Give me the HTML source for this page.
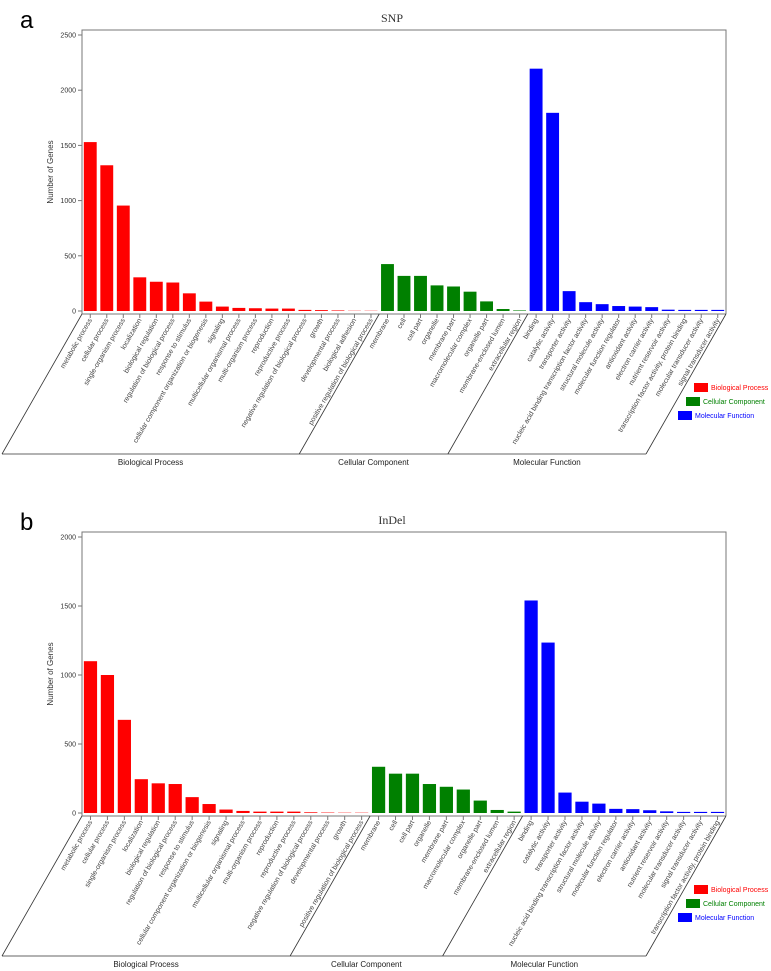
<!DOCTYPE html>
<html><head><meta charset="utf-8">
<style>
body{margin:0;background:#fff;}
svg{display:block;font-family:"Liberation Sans",Arial,sans-serif;}
</style></head>
<body>
<svg id="chart" width="771" height="971" viewBox="0 0 771 971" xmlns="http://www.w3.org/2000/svg"></svg>
<script>
const snpBP = ["metabolic process","cellular process","single-organism process","localization","biological regulation","regulation of biological process","response to stimulus","cellular component organization or biogenesis","signaling","multicellular organismal process","multi-organism process","reproduction","reproductive process","negative regulation of biological process","growth","developmental process","biological adhesion","positive regulation of biological process"];
const snpBPVals = [1530,1320,955,305,265,258,160,85,40,28,25,22,22,10,8,5,2,2];
const snpCC = ["membrane","cell","cell part","organelle","membrane part","macromolecular complex","organelle part","membrane-enclosed lumen","extracellular region"];
const snpCCVals = [425,318,318,232,222,175,87,18,5];
const snpMF = ["binding","catalytic activity","transporter activity","nucleic acid binding transcription factor activity","structural molecule activity","molecular function regulator","antioxidant activity","electron carrier activity","nutrient reservoir activity","transcription factor activity, protein binding","molecular transducer activity","signal transducer activity"];
const snpMFVals = [2195,1795,180,80,62,45,40,35,12,10,10,10];
const snpTicks = [0,500,1000,1500,2000,2500];

const indBP = ["metabolic process","cellular process","single-organism process","localization","biological regulation","regulation of biological process","response to stimulus","cellular component organization or biogenesis","signaling","multicellular organismal process","multi-organism process","reproduction","reproductive process","negative regulation of biological process","developmental process","growth","positive regulation of biological process"];
const indBPVals = [1100,1000,675,245,215,210,115,65,25,15,10,10,10,5,3,2,2];
const indCC = ["membrane","cell","cell part","organelle","membrane part","macromolecular complex","organelle part","membrane-enclosed lumen","extracellular region"];
const indCCVals = [335,285,285,210,190,170,90,22,10];
const indMF = ["binding","catalytic activity","transporter activity","nucleic acid binding transcription factor activity","structural molecule activity","molecular function regulator","electron carrier activity","antioxidant activity","nutrient reservoir activity","molecular transducer activity","signal transducer activity","transcription factor activity, protein binding"];
const indMFVals = [1540,1235,148,82,68,30,28,20,12,8,8,8];
const indTicks = [0,500,1000,1500,2000];

const NS="http://www.w3.org/2000/svg";
const svg=document.getElementById('chart');
function mk(tag,attrs,parent,text){const e=document.createElementNS(NS,tag);for(const k in attrs)e.setAttribute(k,attrs[k]);if(text!==undefined)e.textContent=text;(parent||svg).appendChild(e);return e;}

function panel(id,letter,title,oy,yMax,ticks,groups){
  const g=mk('g',{});
  
  
  const L=82,R=726,T=oy,zeroY=oy+281,axisY=oy+284,H=276;
  const yS=v=>zeroY-v/yMax*H;
  const lt=mk('text',{x:20,y:oy-2,'font-size':24,fill:'#000'},g,letter);
  
  
  const tt=mk('text',{x:392,y:oy-8,'font-size':12,'text-anchor':'middle','font-family':'"Liberation Serif",serif',fill:'#333'},g,title);
  
  
  const fr=mk('path',{d:`M${L},${axisY}V${T}H${R}V${axisY}`,fill:'none',stroke:'#777','stroke-width':1},g);
  
  
  ticks.forEach(t=>{
    mk('line',{x1:L-4,x2:L,y1:yS(t),y2:yS(t),stroke:'#777'},g);
    const tl=mk('text',{x:L-6,y:yS(t)+2.5,'font-size':7,'text-anchor':'end',fill:'#333'},g,t);
    
    
  });
  const yt=mk('text',{x:0,y:0,'font-size':8,'text-anchor':'middle',fill:'#333',transform:`translate(53,${oy+142}) rotate(-90)`},g,'Number of Genes');
  
  
  const n=groups.reduce((a,gr)=>a+gr.cats.length,0);
  const slot=(R-L)/n;
  const dx=80,dy=140,by=axisY+dy;
  mk('line',{x1:L,y1:axisY,x2:R,y2:axisY,stroke:'#777'},g);
  let i=0;
  const bounds=[L];
  groups.forEach(gr=>{
    gr.cats.forEach((c,j)=>{
      const cx=L+(i+0.5)*slot;
      const b=mk('rect',{x:cx-slot*0.39,y:yS(gr.vals[j]),width:slot*0.78,height:zeroY-yS(gr.vals[j]),fill:gr.color},g);
      
      
      mk('line',{x1:cx,x2:cx,y1:axisY,y2:axisY+4,stroke:'#777'},g);
      const xl=mk('text',{x:0,y:0,'font-size':7,'text-anchor':'end',fill:'#444',transform:`translate(${cx+2},${axisY+6}) rotate(-60)`},g,c);
      
      
      i++;
    });
    bounds.push(L+i*slot);
  });
  bounds.forEach(x=>mk('line',{x1:x,y1:axisY,x2:x-dx,y2:by,stroke:'#333','stroke-width':0.8},g));
  mk('line',{x1:L-dx,y1:by,x2:R-dx,y2:by,stroke:'#333','stroke-width':0.8},g);
  groups.forEach((gr,k)=>{
    const mx=(bounds[k]+bounds[k+1])/2-dx;
    const gl=mk('text',{x:mx,y:by+11,'font-size':8,'text-anchor':'middle',fill:'#222'},g,gr.name);
    
    
  });
  groups.forEach((gr,k)=>{
    const ly=oy+357+k*14;
    const lx=694-k*8;
    const le=mk('g',{},g);
    
    
    mk('rect',{x:lx,y:ly-4,width:14,height:9,fill:gr.color},le);
    mk('text',{x:lx+17,y:ly+3,'font-size':7,fill:gr.color},le,gr.name);
  });
}
panel('snp','a','SNP',30,2500,snpTicks,[
  {name:'Biological Process',cats:snpBP,vals:snpBPVals,color:'#ff0000'},
  {name:'Cellular Component',cats:snpCC,vals:snpCCVals,color:'#008000'},
  {name:'Molecular Function',cats:snpMF,vals:snpMFVals,color:'#0000ff'}]);
panel('indel','b','InDel',532,2000,indTicks,[
  {name:'Biological Process',cats:indBP,vals:indBPVals,color:'#ff0000'},
  {name:'Cellular Component',cats:indCC,vals:indCCVals,color:'#008000'},
  {name:'Molecular Function',cats:indMF,vals:indMFVals,color:'#0000ff'}]);
</script>
</body></html>
